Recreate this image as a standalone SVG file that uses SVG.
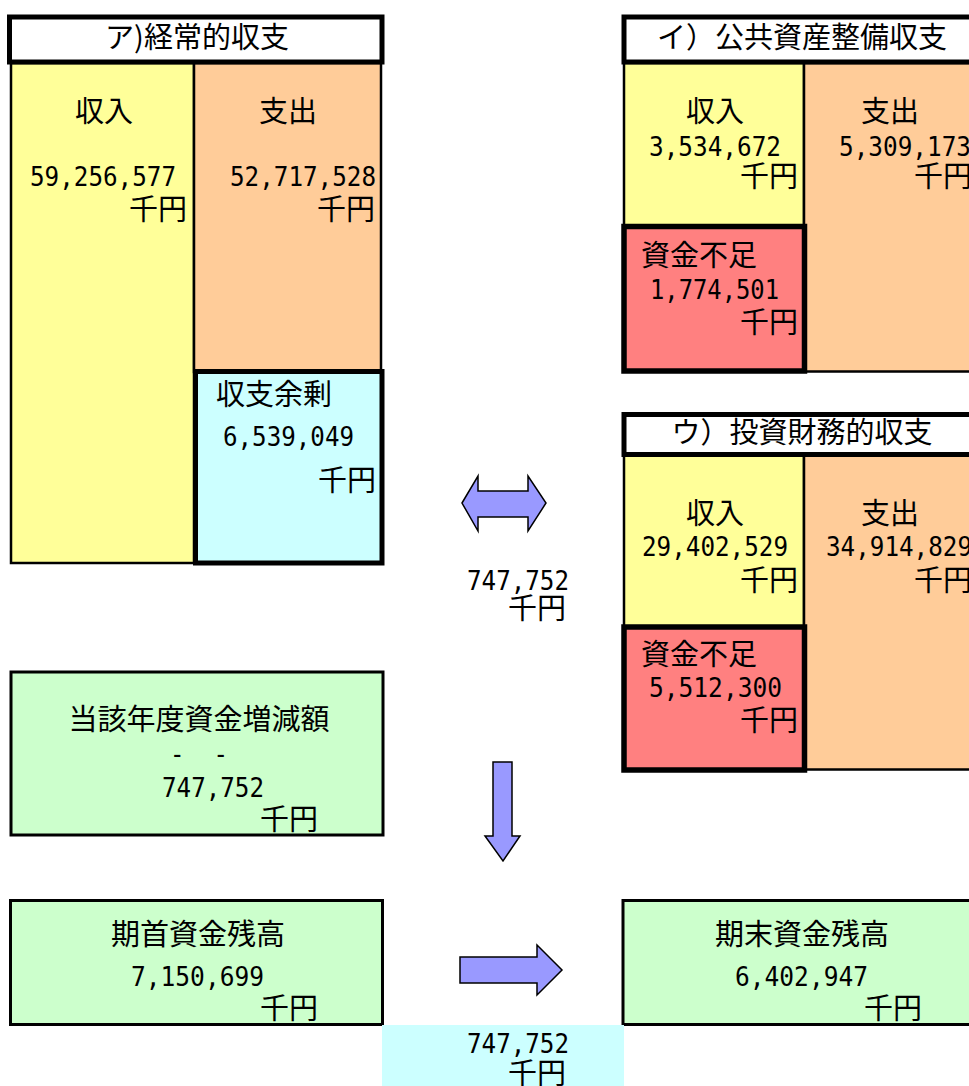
<svg xmlns="http://www.w3.org/2000/svg" width="969" height="1086" viewBox="0 0 969 1086">
<style>
.j{font-family:"Noto Sans CJK JP","Noto Sans",sans-serif;font-size:29px;fill:#000}
.n{font-family:"DejaVu Sans Mono","Liberation Mono",monospace;font-size:26px;fill:#000}
.m{text-anchor:middle}
.e{text-anchor:end}
.ttl{fill:#fff;stroke:#000;stroke-width:5}
.yl{fill:#ffff99;stroke:#000;stroke-width:2.5}
.or{fill:#ffcc99;stroke:#000;stroke-width:2.5}
.cy{fill:#ccffff;stroke:#000;stroke-width:5}
.rd{fill:#ff8080;stroke:#000;stroke-width:5.5}
.gr{fill:#ccffcc;stroke:#000;stroke-width:3}
.ar{fill:#9999ff;stroke:#000;stroke-width:1.5;stroke-linejoin:miter}
</style>
<rect width="969" height="1086" fill="#fff"/>

<g id="keijou">
  <rect class="yl" x="11" y="63" width="183" height="500"/>
  <rect class="or" x="194" y="63" width="187" height="309"/>
  <rect class="ttl" x="9.5" y="17" width="372.5" height="45"/>
  <text class="j m" x="197" y="48">ア)経常的収支</text>
  <text class="j m" x="104" y="122">収入</text>
  <text class="j m" x="288" y="122">支出</text>
  <text class="n" x="30" y="186" textLength="146" lengthAdjust="spacingAndGlyphs">59,256,577</text>
  <text class="j e" x="187" y="220">千円</text>
  <text class="n" x="230" y="186" textLength="146" lengthAdjust="spacingAndGlyphs">52,717,528</text>
  <text class="j e" x="375" y="220">千円</text>
</g>

<g id="keijou-surplus">
  <rect class="cy" x="195.5" y="371.5" width="186.5" height="191.5"/>
  <text class="j" x="216" y="405">収支余剰</text>
  <text class="n" x="223" y="446" textLength="131" lengthAdjust="spacingAndGlyphs">6,539,049</text>
  <text class="j e" x="376" y="491">千円</text>
</g>

<g id="koukyou">
  <rect class="yl" x="624" y="63" width="180" height="165"/>
  <rect class="or" x="804" y="63" width="200" height="308.5"/>
  <rect class="ttl" x="624" y="17" width="380" height="45"/>
  <text class="j m" x="802" y="48">イ）公共資産整備収支</text>
  <text class="j m" x="715" y="122">収入</text>
  <text class="n" x="649" y="156" textLength="132" lengthAdjust="spacingAndGlyphs">3,534,672</text>
  <text class="j e" x="798" y="187">千円</text>
  <text class="j m" x="890" y="122">支出</text>
  <text class="n" x="839" y="156" textLength="132" lengthAdjust="spacingAndGlyphs">5,309,173</text>
  <text class="j" x="914" y="187">千円</text>
</g>

<g id="koukyou-shortage">
  <rect class="rd" x="624" y="226.5" width="180.5" height="144.5"/>
  <text class="j" x="641" y="266">資金不足</text>
  <text class="n" x="650" y="299" textLength="129" lengthAdjust="spacingAndGlyphs">1,774,501</text>
  <text class="j e" x="798" y="333">千円</text>
</g>

<g id="toushi">
  <rect class="yl" x="624" y="455" width="180" height="172"/>
  <rect class="or" x="804" y="455" width="200" height="314.5"/>
  <rect class="ttl" x="624" y="414.5" width="380" height="40"/>
  <text class="j m" x="802" y="443">ウ）投資財務的収支</text>
  <text class="j m" x="715" y="524">収入</text>
  <text class="n" x="642" y="556" textLength="146" lengthAdjust="spacingAndGlyphs">29,402,529</text>
  <text class="j e" x="798" y="591">千円</text>
  <text class="j m" x="890" y="524">支出</text>
  <text class="n" x="826" y="556" textLength="146" lengthAdjust="spacingAndGlyphs">34,914,829</text>
  <text class="j" x="914" y="591">千円</text>
</g>

<g id="toushi-shortage">
  <rect class="rd" x="624" y="627" width="180.5" height="143"/>
  <text class="j" x="641" y="665">資金不足</text>
  <text class="n" x="649" y="697" textLength="133" lengthAdjust="spacingAndGlyphs">5,512,300</text>
  <text class="j e" x="798" y="731">千円</text>
</g>

<g id="diff-label">
  <text class="n" x="467" y="590" textLength="102" lengthAdjust="spacingAndGlyphs">747,752</text>
  <text class="j" x="508" y="619">千円</text>
</g>

<g id="zougen">
  <rect class="gr" x="11" y="672" width="372" height="163"/>
  <text class="j m" x="199" y="730">当該年度資金増減額</text>
  <text class="n" x="170" y="763" textLength="58" lengthAdjust="spacingAndGlyphs" xml:space="preserve">-  -</text>
  <text class="n" x="162" y="797" textLength="102" lengthAdjust="spacingAndGlyphs">747,752</text>
  <text class="j e" x="318" y="830">千円</text>
</g>

<g id="kishu">
  <rect class="gr" x="10.5" y="900.5" width="372" height="124"/>
  <text class="j m" x="198" y="945">期首資金残高</text>
  <text class="n" x="131" y="986" textLength="133" lengthAdjust="spacingAndGlyphs">7,150,699</text>
  <text class="j e" x="318" y="1019">千円</text>
</g>

<g id="kimatsu">
  <rect class="gr" x="623" y="900.5" width="380" height="124"/>
  <text class="j m" x="802" y="945">期末資金残高</text>
  <text class="n" x="735" y="986" textLength="133" lengthAdjust="spacingAndGlyphs">6,402,947</text>
  <text class="j e" x="922" y="1019">千円</text>
</g>

<g id="diff-bottom">
  <rect x="382" y="1025" width="242" height="61" fill="#ccffff"/>
  <text class="n" x="467" y="1053" textLength="102" lengthAdjust="spacingAndGlyphs">747,752</text>
  <text class="j" x="508" y="1084">千円</text>
</g>

<g id="connectors">
  <polygon class="ar" points="462,503 478,476 478,491 528,491 528,476 546,503 528,531 528,517 478,517 478,531"/>
  <polygon class="ar" points="493,762 512,762 512,836 520,836 503,861 485,836 493,836"/>
  <polygon class="ar" points="460,957 537,957 537,945 562,970 537,995 537,983 460,983"/>
</g>
</svg>
